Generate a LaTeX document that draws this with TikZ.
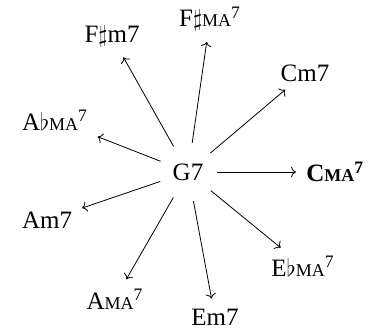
\documentclass[tikz,border=0pt]{standalone}
\usepackage{fontspec}
\setmainfont{Liberation Serif}
\usetikzlibrary{arrows.meta}
\newcommand{\maj}{{\fontsize{9}{10}\selectfont MA}}
\newcommand{\sev}{\textsuperscript{7}}
\begin{document}
\begin{tikzpicture}[x=.5pt,y=-.5pt,>=To,font=\fontsize{12.5}{15}\selectfont]
\useasboundingbox (0,0) rectangle (368,331);
\tikzset{chord/.style={inner sep=2pt}}
\node[circle,minimum size=29pt,inner sep=0pt] (g7) at (188,172) {G7};
\node[chord] (fsm) at (112,37) {F$\sharp$m7};
\node[chord] (fsma) at (210,19) {F$\sharp$\maj\sev};
\node[chord] (cm) at (305,73) {Cm7};
\node[chord] (abma) at (55,120) {A$\flat$\maj\sev};
\node[chord,anchor=west] (cma) at (302,172) {\textbf{C\maj\sev}};
\node[chord] (am) at (47,220) {Am7};
\node[chord] (ebma) at (303,266) {E$\flat$\maj\sev};
\node[chord] (ama) at (115,299) {A\maj\sev};
\node[chord] (em) at (215,317) {Em7};
% arrows out of G7
\foreach \t in {fsm,fsma,cm,abma,cma,am,ebma,ama,em}
  \draw[->,shorten >=3pt] (g7) -- (\t);
\end{tikzpicture}
\end{document}
